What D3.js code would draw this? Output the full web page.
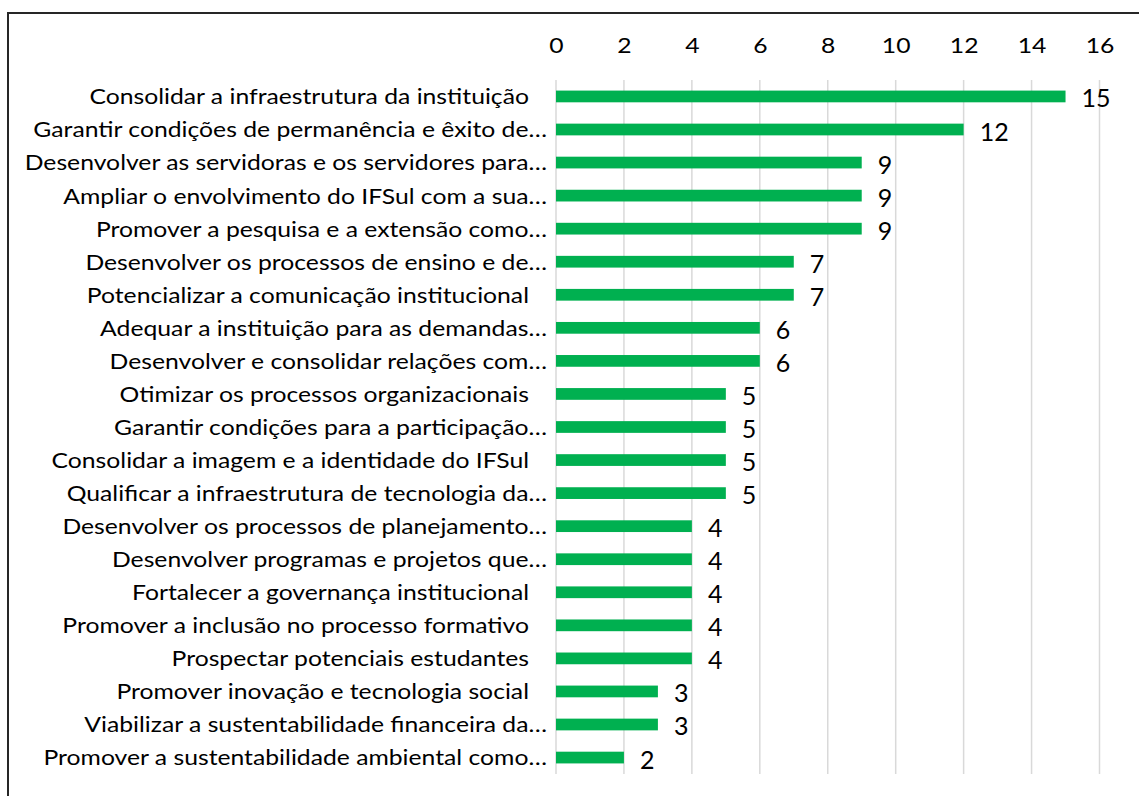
<!DOCTYPE html>
<html><head><meta charset="utf-8">
<script src="https://cdn.jsdelivr.net/npm/d3@7"></script>
<style>body{margin:0;background:#fff}svg{display:block}</style>
</head><body>
<script>
const categories = [
  "Consolidar a infraestrutura da instituição",
  "Garantir condições de permanência e êxito de…",
  "Desenvolver as servidoras e os servidores para…",
  "Ampliar o envolvimento do IFSul com a sua…",
  "Promover a pesquisa e a extensão como…",
  "Desenvolver os processos de ensino e de…",
  "Potencializar a comunicação institucional",
  "Adequar a instituição para as demandas…",
  "Desenvolver e consolidar relações com…",
  "Otimizar os processos organizacionais",
  "Garantir condições para a participação…",
  "Consolidar a imagem e a identidade do IFSul",
  "Qualificar a infraestrutura de tecnologia da…",
  "Desenvolver os processos de planejamento…",
  "Desenvolver programas e projetos que…",
  "Fortalecer a governança institucional",
  "Promover a inclusão no processo formativo",
  "Prospectar potenciais estudantes",
  "Promover inovação e tecnologia social",
  "Viabilizar a sustentabilidade financeira da…",
  "Promover a sustentabilidade ambiental como…"
];
const values = [15,12,9,9,9,7,7,6,6,5,5,5,5,4,4,4,4,4,3,3,2];
const tickValues = [0,2,4,6,8,10,12,14,16];

const W = 1139, H = 796;
const svg = d3.select("body").append("svg").attr("width", W).attr("height", H);
const FONT = "Lato, 'Open Sans', sans-serif";

// frame
svg.append("rect").attr("x", 8).attr("y", 13).attr("width", W + 20).attr("height", H + 20)
  .attr("fill", "#fff").attr("stroke", "#262626").attr("stroke-width", 2);

const x = d3.scaleLinear().domain([0, 16]).range([556, 1099.5]);
const y = d3.scaleBand().domain(categories).range([80, 774]).paddingInner(0.645).paddingOuter(0.32);

// gridlines
svg.append("g").selectAll("line").data(tickValues).join("line")
  .attr("x1", d => x(d)).attr("x2", d => x(d))
  .attr("y1", 80).attr("y2", 774)
  .attr("stroke", "#d9d9d9").attr("stroke-width", 1.5);

// horizontal compression so Lato mimics the narrower Calibri-like reference glyphs
const CAT_SIZE = 22;
const probe = svg.append("text").attr("font-family", FONT).attr("font-size", CAT_SIZE).text(categories[1]);
const wProbe = probe.node().getComputedTextLength();
probe.remove();
const sx = 514 / wProbe;

// top axis labels
const axis = d3.axisTop(x).tickValues(tickValues).tickSize(0).tickPadding(0);
const ag = svg.append("g").attr("transform", "translate(0,53)").call(axis);
ag.select(".domain").remove();
ag.selectAll(".tick text").attr("font-family", FONT).attr("font-size", 22).attr("fill", "#000")
  .attr("dy", 0).attr("transform", `scale(${sx},1)`);

// bars
svg.append("g").selectAll("rect").data(values).join("rect")
  .attr("x", x(0))
  .attr("y", (d, i) => y(categories[i]))
  .attr("width", d => x(d) - x(0))
  .attr("height", y.bandwidth())
  .attr("fill", "#00b050");

// category labels
svg.append("g").selectAll("text").data(categories).join("text")
  .attr("transform", d => `translate(${d.endsWith("…") ? 547 : 529},${y(d) + y.bandwidth() / 2}) scale(${sx},1)`)
  .attr("dy", "0.36em")
  .attr("text-anchor", "end")
  .attr("font-family", FONT).attr("font-size", CAT_SIZE).attr("fill", "#000")
  .text(d => d);

// value labels
svg.append("g").selectAll("text").data(values).join("text")
  .attr("transform", (d, i) => `translate(${x(d) + 16},${y(categories[i]) + y.bandwidth() / 2 + 2})`)
  .attr("dy", "0.36em")
  .attr("font-family", FONT).attr("font-size", 25).attr("fill", "#000")
  .text(d => d);
</script>
</body></html>
